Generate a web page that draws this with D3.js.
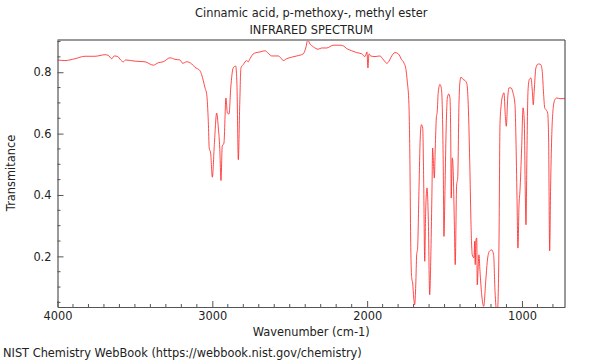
<!DOCTYPE html>
<html><head><meta charset="utf-8">
<script src="https://cdn.jsdelivr.net/npm/d3@7/dist/d3.min.js"></script>
<style>body{margin:0;background:#fff}svg{display:block}text{font-family:"DejaVu Sans",sans-serif;fill:#222}</style>
</head><body><svg id="c" width="600" height="360"></svg>
<script>
const titleLines = ["Cinnamic acid, p-methoxy-, methyl ester", "INFRARED SPECTRUM"];
const xTickValues = [4000, 3000, 2000, 1000];
const yTickValues = [0.2, 0.4, 0.6, 0.8];
const wavenumber = [4000,3952,3887,3822,3758,3693,3672,3650,3633,3611,3592,3575,3560,3499,3435,3381,3349,3317,3273,3241,3209,3191,3166,3133,3112,3080,3069,3047,3036,3026,3020,3011,3000,2987,2972,2961,2952,2944,2936,2925,2912,2903,2892,2881,2865,2849,2841,2832,2823,2815,2800,2778,2768,2757,2729,2692,2660,2639,2617,2595,2574,2558,2542,2520,2487,2455,2412,2395,2384,2369,2348,2316,2294,2261,2219,2175,2154,2132,2100,2068,2035,2014,2001,1995,1988,1977,1949,1917,1900,1887,1874,1861,1848,1820,1799,1777,1762,1749,1741,1730,1723,1719,1712,1706,1699,1693,1686,1680,1674,1665,1657,1650,1641,1635,1628,1622,1613,1605,1596,1588,1581,1577,1573,1566,1560,1553,1547,1541,1530,1521,1515,1508,1504,1497,1491,1482,1473,1465,1460,1457,1450,1444,1437,1431,1422,1415,1407,1400,1394,1381,1364,1355,1347,1336,1329,1321,1310,1305,1302,1297,1292,1289,1282,1278,1271,1260,1247,1234,1224,1211,1196,1183,1174,1163,1157,1148,1142,1134,1123,1116,1108,1101,1092,1084,1071,1058,1045,1039,1032,1026,1019,1013,1002,993,985,979,974,968,961,953,942,933,927,921,910,895,879,869,860,853,845,834,828,821,815,808,798,787,776,755,722];
const transmittance = [0.840,0.838,0.844,0.852,0.852,0.857,0.855,0.844,0.853,0.851,0.840,0.834,0.840,0.836,0.834,0.823,0.831,0.834,0.847,0.842,0.840,0.829,0.834,0.827,0.816,0.805,0.792,0.749,0.727,0.640,0.553,0.537,0.458,0.564,0.667,0.618,0.553,0.447,0.559,0.569,0.716,0.667,0.664,0.749,0.814,0.820,0.760,0.515,0.694,0.814,0.825,0.838,0.834,0.844,0.862,0.866,0.870,0.862,0.853,0.853,0.853,0.847,0.838,0.844,0.849,0.853,0.860,0.882,0.905,0.892,0.883,0.875,0.879,0.879,0.888,0.888,0.886,0.877,0.870,0.864,0.860,0.851,0.866,0.814,0.860,0.853,0.851,0.853,0.844,0.836,0.829,0.834,0.847,0.864,0.860,0.841,0.830,0.808,0.771,0.694,0.477,0.260,0.129,0.113,0.064,0.042,0.107,0.205,0.227,0.423,0.586,0.629,0.618,0.455,0.184,0.347,0.423,0.325,0.075,0.216,0.423,0.553,0.521,0.455,0.553,0.651,0.673,0.733,0.760,0.749,0.694,0.477,0.265,0.423,0.586,0.716,0.729,0.716,0.586,0.390,0.521,0.477,0.314,0.173,0.433,0.455,0.694,0.771,0.784,0.777,0.771,0.760,0.694,0.477,0.303,0.205,0.195,0.249,0.173,0.254,0.260,0.107,0.173,0.205,0.151,0.075,0.037,0.119,0.184,0.216,0.221,0.205,0.086,0.020,0.030,0.260,0.629,0.694,0.727,0.733,0.662,0.624,0.716,0.749,0.749,0.733,0.694,0.586,0.390,0.227,0.368,0.412,0.553,0.684,0.640,0.423,0.303,0.531,0.738,0.776,0.781,0.738,0.694,0.738,0.814,0.827,0.825,0.803,0.727,0.684,0.678,0.667,0.586,0.218,0.423,0.586,0.684,0.711,0.716,0.714,0.714];

const svg = d3.select("#c");
const L = 57.5, R = 565, T = 40, B = 307;
const FS = "11.4px";
const x = d3.scaleLinear().domain([4000, 722]).range([L, R]);
const y = d3.scaleLinear().domain([0.035, 0.905]).range([B, T]);

svg.append("clipPath").attr("id","clip").append("rect").attr("x",L).attr("y",T).attr("width",R-L).attr("height",B-T);

const pts = wavenumber.map((w,i)=>[w, transmittance[i]]);
svg.append("path").datum(pts).attr("clip-path","url(#clip)")
  .attr("fill","none").attr("stroke","#ff2a2a").attr("stroke-width",1).attr("stroke-opacity",0.85)
  .attr("stroke-linejoin","round")
  .attr("d", d3.line().x(d=>x(d[0])).y(d=>y(d[1])).curve(d3.curveMonotoneX));

// frame
svg.append("line").attr("x1",L).attr("x2",R).attr("y1",T).attr("y2",T).attr("stroke","#999").attr("stroke-width",2);
svg.append("line").attr("x1",R).attr("x2",R).attr("y1",T).attr("y2",B).attr("stroke","#555").attr("stroke-width",1.2);

// x axis
const xMinor = d3.range(3900, 722, -100).filter(v=>v%1000!==0);
const gx = svg.append("g").attr("transform",`translate(0,${B})`)
  .call(d3.axisBottom(x).tickValues(xTickValues).tickFormat(d3.format("d")).tickSizeInner(-6).tickSizeOuter(0).tickPadding(5));
gx.selectAll("text").style("font-size",FS).attr("fill","#222");
gx.select(".domain").attr("stroke","#555").attr("stroke-width",1.2);
gx.selectAll(".tick line").attr("stroke","#555");
gx.selectAll(".minor").data(xMinor).enter().append("line").attr("class","minor")
  .attr("x1",d=>x(d)).attr("x2",d=>x(d)).attr("y1",0).attr("y2",-3).attr("stroke","#555");

// y axis
const yMinor = d3.range(0.05, 0.91, 0.05).filter(v=>Math.abs(v*5-Math.round(v*5))>1e-6 && v>0.035);
const gy = svg.append("g").attr("transform",`translate(${L},0)`)
  .call(d3.axisLeft(y).tickValues(yTickValues).tickFormat(d3.format(".1f")).tickSizeInner(-6).tickSizeOuter(0).tickPadding(5));
gy.selectAll("text").style("font-size",FS).attr("fill","#222").attr("dx","-1");
gy.select(".domain").attr("stroke","#555").attr("stroke-width",1.2);
gy.selectAll(".tick line").attr("stroke","#555");
gy.selectAll(".minor").data(yMinor).enter().append("line").attr("class","minor")
  .attr("y1",d=>y(d)).attr("y2",d=>y(d)).attr("x1",0).attr("x2",3).attr("stroke","#555");

// titles
svg.selectAll(".title").data(titleLines).enter().append("text")
  .attr("x",(L+R)/2).attr("y",(d,i)=>17+i*17).attr("text-anchor","middle").style("font-size",FS).text(d=>d);
svg.append("text").attr("x",(L+R)/2).attr("y",336).attr("text-anchor","middle").style("font-size",FS).text("Wavenumber (cm-1)");
svg.append("text").attr("transform","translate(15,173) rotate(-90)").attr("text-anchor","middle").style("font-size",FS).text("Transmitance");
svg.append("text").attr("x",3).attr("y",357).style("font-size",FS).text("NIST Chemistry WebBook (https://webbook.nist.gov/chemistry)");
</script></body></html>
